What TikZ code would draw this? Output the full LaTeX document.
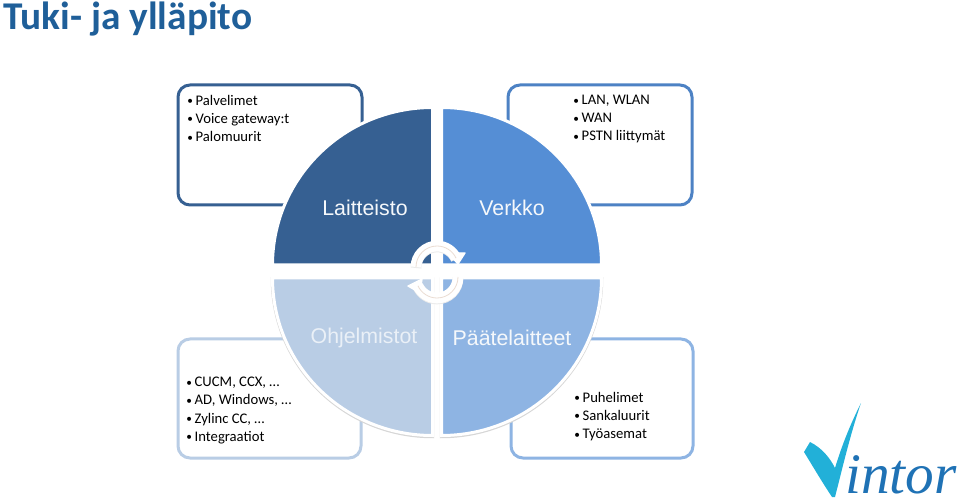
\documentclass[tikz,border=0pt]{standalone}
\usepackage{fontspec}
\setmainfont{Carlito}
\newfontfamily\labelfont{Liberation Sans}
\newfontfamily\logofont{Liberation Serif}
\usepackage{tikz}
\definecolor{darkq}{HTML}{366092}
\definecolor{midq}{HTML}{558ED5}
\definecolor{paleq}{HTML}{B9CDE5}
\definecolor{softq}{HTML}{8EB4E3}
\definecolor{titleblue}{HTML}{1F5F99}
\definecolor{logocyan}{HTML}{22B0D8}
\definecolor{logoblue}{HTML}{1F72B5}
\definecolor{arctan}{HTML}{EADCD2}
\newcommand{\boxitem}[1]{\makebox[6.3pt][l]{\fontsize{8.5}{8.5}\selectfont\raisebox{0.5pt}{•}}#1}
\tikzset{
	infobox/.style={line width=2.25pt,fill=white,rounded corners=9pt},
	quarter/.style={draw=white,line width=2.25pt},
	quartershade/.style={draw=black!16,line width=2.6pt},
	infotext/.style={anchor=north west,inner sep=0pt,align=left,font=\fontsize{11}{13.6}\selectfont},
	quarterlabel/.style={inner sep=0pt,font=\labelfont\fontsize{16}{18}\selectfont},
	turnshadow/.style={draw=black!8,line width=8pt},
	turnband/.style={draw=white,line width=8pt},
	turnline/.style={draw=arctan,line width=0.6pt}
}
\begin{document}
\begin{tikzpicture}[x=0.75pt,y=0.75pt]
	\useasboundingbox (0,0) rectangle (960,500);
	
	\node[anchor=base west,inner sep=0pt,text=titleblue,font=\bfseries\fontsize{29.5}{32}\selectfont] (title)at(3,470) {Tuki- ja ylläpito};
	
	\draw[infobox,draw=darkq] (178,415) rectangle (362,295);
	\draw[infobox,draw=midq!75!darkq] (508,415) rectangle (692,295);
	\draw[infobox,draw=paleq] (178,161) rectangle (361,42);
	\draw[infobox,draw=softq] (511,161) rectangle (693,42);
	
	\node[infotext] (hardware)at(187,405) {\boxitem{Palvelimet}\\\boxitem{Voice gateway:t}\\\boxitem{Palomuurit}};
	\node[infotext] (network)at(573,405) {\boxitem{LAN, WLAN}\\\boxitem{WAN}\\\boxitem{PSTN liittymät}};
	\node[infotext] (software)at(186,123) {\boxitem{CUCM, CCX, …}\\\boxitem{AD, Windows, …}\\\boxitem{Zylinc CC, …}\\\boxitem{Integraatiot}};
	\node[infotext] (devices)at(574,108) {\boxitem{Puhelimet}\\\boxitem{Sankaluurit}\\\boxitem{Työasemat}};
	
	\draw[quartershade] (432.5,221) -- (432.5,63.5) arc[start angle=270,end angle=180,x radius=160,y radius=157.5] -- cycle;
	\draw[quartershade] (441.5,221) -- (601.5,221) arc[start angle=0,end angle=-90,x radius=160,y radius=157.5] -- cycle;
	
	\fill[quarter,fill=darkq] (432.5,235) -- (272.5,235) arc[start angle=180,end angle=90,x radius=160,y radius=157.5] -- cycle;
	\fill[quarter,fill=midq] (441.5,235) -- (441.5,392.5) arc[start angle=90,end angle=0,x radius=160,y radius=157.5] -- cycle;
	\fill[quarter,fill=paleq] (432.5,222) -- (432.5,64.5) arc[start angle=270,end angle=180,x radius=160,y radius=157.5] -- cycle;
	\fill[quarter,fill=softq] (441.5,222) -- (601.5,222) arc[start angle=0,end angle=-90,x radius=160,y radius=157.5] -- cycle;
	
	\node[quarterlabel,text=white!85!paleq] (laitteisto)at(365,292) {Laitteisto};
	\node[quarterlabel,text=white!85!paleq] (verkko)at(512,292) {Verkko};
	\node[quarterlabel,text=white!70!paleq] (ohjelmistot)at(364,162) {Ohjelmistot};
	\node[quarterlabel,text=white!85!paleq] (paatelaitteet)at(512,162) {Päätelaitteet};
	
	\draw[turnshadow] (416,232) arc[start angle=180,end angle=25,radius=21];
	\draw[turnshadow] (458,222) arc[start angle=0,end angle=-155,radius=21];
	\draw[turnband] (416,233) arc[start angle=180,end angle=25,radius=21];
	\draw[turnband] (458,223) arc[start angle=0,end angle=-155,radius=21];
	\fill[white,draw=white,line join=round,line width=1pt] (465,247) -- (458,236) -- (448,247) -- cycle;
	\fill[white,draw=white,line join=round,line width=1pt] (408,214) -- (422,221) -- (420,207) -- cycle;
	\draw[turnline] (416,233) arc[start angle=180,end angle=25,radius=21];
	\draw[turnline] (458,223) arc[start angle=0,end angle=-155,radius=21];
	
	\fill[logocyan] (804,48) -- (810,58) .. controls (822,52) and (830,42) .. (835,32) .. controls (842,55) and (850,75) .. (861,97) .. controls (850,65) and (842,30) .. (835,3) -- (832,3) .. controls (822,18) and (812,35) .. (804,48) -- cycle;
	\node[anchor=base west,inner sep=0pt,text=logoblue,font=\logofont\itshape\fontsize{43}{45}\selectfont] (vintor)at(845,7) {intor};
\end{tikzpicture}
\end{document}
